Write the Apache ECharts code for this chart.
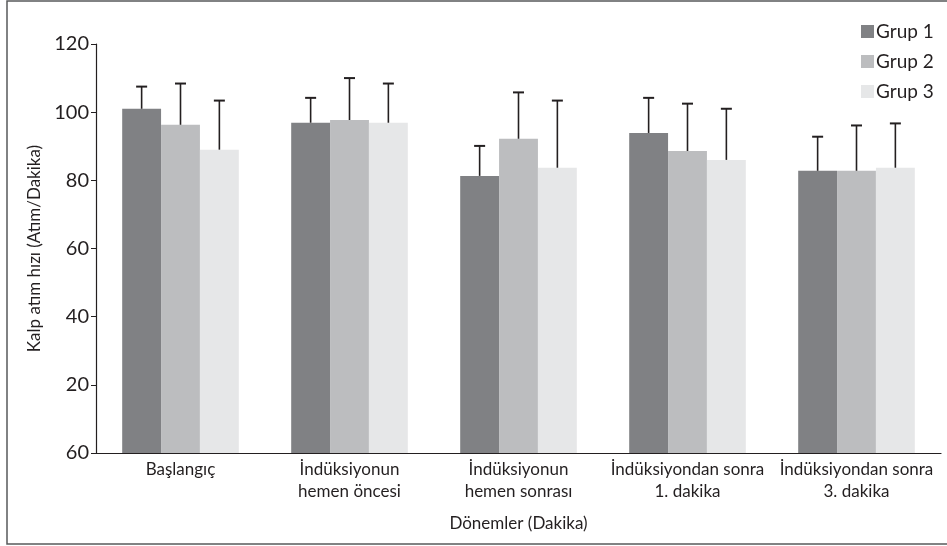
<!DOCTYPE html>
<html>
<head>
<meta charset="utf-8">
<script src="https://cdn.jsdelivr.net/npm/echarts@6/dist/echarts.min.js"></script>
<style>
  html, body { margin: 0; padding: 0; background: #fff; }
  #chart { width: 947px; height: 546px; }
</style>
</head>
<body>
<div id="chart"></div>
<script>
// dönemler
const categories = [
  'Başlangıç',
  'İndüksiyonun\nhemen öncesi',
  'İndüksiyonun\nhemen sonrası',
  'İndüksiyondan sonra\n1. dakika',
  'İndüksiyondan sonra\n3. dakika'
];
const groupNames = ['Grup 1', 'Grup 2', 'Grup 3'];
// ortalama değerler
const grup1 = [101, 96.9, 81.3, 93.9, 82.8];
const grup2 = [96.3, 97.7, 92.2, 88.6, 82.8];
const grup3 = [89, 96.9, 83.7, 86, 83.7];
// hata çubuklarının üst ucu
const grup1Top = [107.5, 104.2, 90.1, 104.2, 92.8];
const grup2Top = [108.4, 110, 105.8, 102.5, 96.1];
const grup3Top = [103.4, 108.4, 103.4, 101, 96.7];
// y ekseni etiketleri (orijinaldeki gibi)
const yTickLabels = ['60', '20', '40', '60', '80', '100', '120'];

const colors = ['#808184', '#bcbdbf', '#e6e7e8'];
const means = [grup1, grup2, grup3];
const tops = [grup1Top, grup2Top, grup3Top];
const catGap = 0.31;
const font = 'Lato';
const ink = '#231f20';

const chart = echarts.init(document.getElementById('chart'));

function errorSeries(idx) {
  return {
    type: 'custom',
    name: groupNames[idx] + ' hata',
    z: 5,
    silent: true,
    data: categories.map((c, i) => [i, means[idx][i], tops[idx][i]]),
    renderItem(params, api) {
      const catW = api.size([1, 0])[0];
      const barW = catW * (1 - catGap) / 3;
      const base = api.coord([api.value(0), api.value(1)]);
      const top = api.coord([api.value(0), api.value(2)]);
      const x = base[0] + (idx - 1) * barW;
      const style = { stroke: ink, lineWidth: 1.6 };
      return {
        type: 'group',
        children: [
          { type: 'line', shape: { x1: x, y1: base[1], x2: x, y2: top[1] }, style },
          { type: 'line', shape: { x1: x - 5.5, y1: top[1], x2: x + 5.5, y2: top[1] }, style: { stroke: ink, lineWidth: 2 } }
        ]
      };
    }
  };
}

const option = {
  animation: false,
  textStyle: { fontFamily: font },
  color: colors,
  graphic: [{
    type: 'rect',
    shape: { x: 7, y: 1, width: 950, height: 543 },
    style: { fill: null, stroke: '#58595b', lineWidth: 1.5 },
    silent: true
  }],
  legend: {
    orient: 'vertical',
    left: 856,
    top: 17,
    itemWidth: 13,
    itemHeight: 13,
    itemGap: 11,
    icon: 'rect',
    data: groupNames,
    textStyle: { fontFamily: font, fontSize: 19, color: ink, padding: [0, 0, 0, -3] }
  },
  grid: { left: 96, right: 6, top: 44, bottom: 93 },
  xAxis: {
    type: 'category',
    data: categories,
    name: 'Dönemler (Dakika)',
    nameLocation: 'middle',
    nameGap: 62,
    nameTextStyle: { fontFamily: font, fontSize: 17, color: ink },
    axisLine: { lineStyle: { color: ink, width: 1.2 } },
    axisTick: { length: 4, lineStyle: { color: ink } },
    axisLabel: { fontFamily: font, fontSize: 17, color: ink, lineHeight: 22, margin: 6, interval: 0 }
  },
  yAxis: {
    type: 'value',
    min: 0,
    max: 120,
    interval: 20,
    name: 'Kalp atım hızı (Atım/Dakika)',
    nameLocation: 'middle',
    nameGap: 48,
    nameTextStyle: { fontFamily: font, fontSize: 17, color: ink },
    axisLine: { show: true, lineStyle: { color: ink, width: 1.2 } },
    axisTick: { show: true, length: 5, lineStyle: { color: ink } },
    splitLine: { show: false },
    axisLabel: {
      fontFamily: font, fontSize: 20, color: ink, margin: 7,
      formatter: v => yTickLabels[Math.round(v / 20)]
    }
  },
  series: [
    ...groupNames.map((n, i) => ({
      type: 'bar',
      name: n,
      data: means[i],
      barGap: '0%',
      barCategoryGap: (catGap * 100) + '%',
      itemStyle: { color: colors[i] }
    })),
    errorSeries(0),
    errorSeries(1),
    errorSeries(2)
  ]
};

chart.setOption(option);
</script>
</body>
</html>
